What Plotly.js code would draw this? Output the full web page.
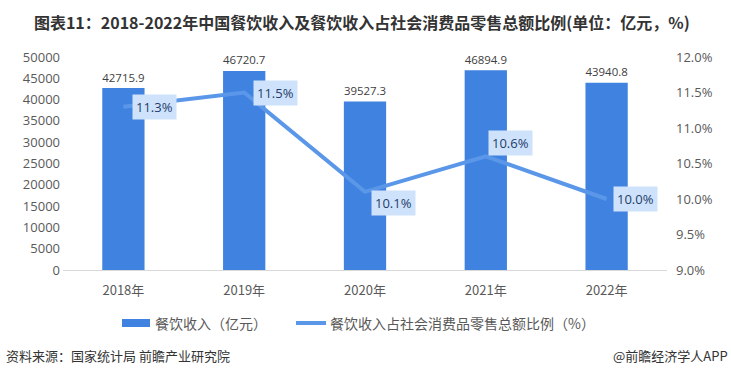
<!DOCTYPE html>
<html><head><meta charset="utf-8">
<script src="https://cdn.plot.ly/plotly-3.0.1.min.js"></script>
<style>html,body{margin:0;padding:0;background:#fff;}#chart{width:731px;height:377px;}</style>
</head><body><div id="chart"></div>
<script>
const years = ['2018年','2019年','2020年','2021年','2022年'];
const revenue = [42715.9, 46720.7, 39527.3, 46894.9, 43940.8];
const share = [11.3, 11.5, 10.1, 10.6, 10.0];
const leftTicks = [0,5000,10000,15000,20000,25000,30000,35000,40000,45000,50000];
const rightTicks = [9.0,9.5,10.0,10.5,11.0,11.5,12.0];
const barName = '餐饮收入（亿元）';
const lineName = '餐饮收入占社会消费品零售总额比例（%）';

const FONT = '"Microsoft YaHei", "Noto Sans CJK SC", "DejaVu Sans", sans-serif';
const NUMFONT = '"Open Sans", "Noto Sans CJK SC", sans-serif';
const NARROW = '"Liberation Sans Narrow", "Noto Sans CJK SC", sans-serif';
const L = 63, R = 64, W = 731, H = 377, T = 57, B = 107;
const pw = W - L - R, ph = H - T - B;
const px = x => (x - L) / pw;
const py = y => (H - B - y) / ph;

const barTrace = {
  type:'bar', x:years, y:revenue, name:barName, showlegend:false,
  marker:{color:'#3f82e0'},
  text:revenue.map(v=>v.toFixed(1)), textposition:'outside',
  textfont:{size:13,color:'#404040',family:NUMFONT},
  cliponaxis:false, hoverinfo:'none'
};
const lineTrace = {
  type:'scatter', mode:'lines', x:years, y:share, yaxis:'y2', name:lineName, showlegend:false,
  line:{color:'#5b97e9', width:4}, hoverinfo:'none'
};
const shifts = [[31,0],[31,0],[28,-11],[25,13],[29,0]];
const annotations = share.map((v,i)=>({
  x:years[i], y:v, xref:'x', yref:'y2', text:v.toFixed(1)+'%', showarrow:false,
  xshift:shifts[i][0], yshift:shifts[i][1],
  bgcolor:'#cfe2fb', borderpad:3,
  font:{size:13,color:'#1d3d6b',family:NUMFONT}
}));
annotations.push({xref:'paper',yref:'paper',x:px(153),y:py(323),xanchor:'left',yanchor:'middle',
  text:barName,showarrow:false,font:{size:14,color:'#595959',family:FONT}});
annotations.push({xref:'paper',yref:'paper',x:px(328),y:py(323),xanchor:'left',yanchor:'middle',
  text:lineName,showarrow:false,font:{size:14,color:'#595959',family:FONT}});
annotations.push({xref:'paper',yref:'paper',x:px(4),y:py(355),xanchor:'left',yanchor:'middle',
  text:'资料来源：国家统计局 前瞻产业研究院',showarrow:false,font:{size:13,color:'#333',family:FONT}});
annotations.push({xref:'paper',yref:'paper',x:px(730),y:py(355),xanchor:'right',yanchor:'middle',
  text:'@前瞻经济学人APP',showarrow:false,font:{size:13,color:'#333',family:FONT}});

const shapes = [
  {type:'rect', xref:'paper', yref:'paper', x0:px(122), x1:px(150), y0:py(319), y1:py(327),
   fillcolor:'#3f82e0', line:{width:0}},
  {type:'line', xref:'paper', yref:'paper', x0:px(296), x1:px(326), y0:py(323), y1:py(323),
   line:{color:'#5b97e9', width:4}}
];

const layout = {
  width:W, height:H,
  margin:{l:L,r:R,t:T,b:B},
  paper_bgcolor:'#fff', plot_bgcolor:'#fff',
  title:{text:'<b>图表11：2018-2022年中国餐饮收入及餐饮收入占社会消费品零售总额比例(单位：亿元，%)</b>',
    x:0.495, xref:'container', xanchor:'center', y:0.953, yref:'container',
    font:{size:16,color:'#333',family:'"Liberation Sans Narrow", "Noto Sans CJK SC", sans-serif'}},
  bargap:0.65,
  showlegend:false,
  xaxis:{type:'category', showline:true, linecolor:'#d9d9d9', linewidth:1, ticks:'', ticklabelstandoff:8,
    tickfont:{size:13,color:'#595959',family:NARROW}, showgrid:false, zeroline:false},
  yaxis:{range:[0,50000], tickvals:leftTicks, ticktext:leftTicks.map(String), showgrid:false, zeroline:false,
    tickfont:{size:13,color:'#595959',family:NUMFONT}, ticks:'', ticklabelstandoff:2},
  yaxis2:{overlaying:'y', side:'right', range:[9,12], tickvals:rightTicks, ticktext:rightTicks.map(v=>v.toFixed(1)+'%'),
    showgrid:false, zeroline:false, ticks:'', ticklabelstandoff:8,
    tickfont:{size:13,color:'#595959',family:NUMFONT}},
  annotations:annotations, shapes:shapes
};
Plotly.newPlot('chart',[barTrace,lineTrace],layout,{displayModeBar:false,staticPlot:true});
</script></body></html>
